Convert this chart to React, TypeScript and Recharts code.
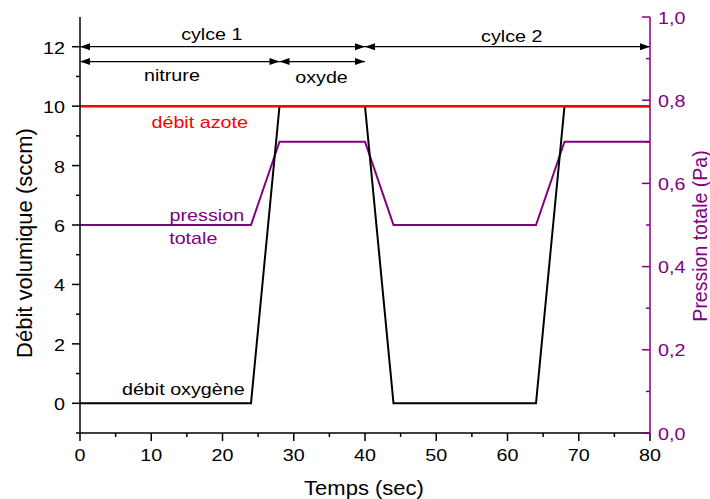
import React from "react";
import {
  ComposedChart,
  Line,
  XAxis,
  YAxis,
  ReferenceLine,
  ReferenceDot,
} from "recharts";

const times = [0, 24, 28, 40, 44, 64, 68, 80];
const oxygene = [0, 0, 10, 10, 0, 0, 10, 10];
const azote = [10, 10, 10, 10, 10, 10, 10, 10];
const pression = [0.5, 0.5, 0.7, 0.7, 0.5, 0.5, 0.7, 0.7];

const xTicks = [0, 5, 10, 15, 20, 25, 30, 35, 40, 45, 50, 55, 60, 65, 70, 75, 80];
const leftTicks = [-1, 0, 1, 2, 3, 4, 5, 6, 7, 8, 9, 10, 11, 12];
const rightTicks = [0, 0.1, 0.2, 0.3, 0.4, 0.5, 0.6, 0.7, 0.8, 0.9, 1.0];

// periods drawn as double arrows
const spans = [
  { from: 0, to: 40, y: 12 },
  { from: 40, to: 80, y: 12 },
  { from: 0, to: 28, y: 11.5 },
  { from: 28, to: 40, y: 11.5 },
];

const notes = [
  { text: "cylce 1", x: 18.5, y: 12.42, color: "#000" },
  { text: "cylce 2", x: 60.6, y: 12.38, color: "#000" },
  { text: "nitrure", x: 12.9, y: 11.06, color: "#000" },
  { text: "oxyde", x: 33.9, y: 11.0, color: "#000" },
  { text: "débit azote", x: 16.8, y: 9.48, color: "#ff0000" },
  { text: "pression", x: 17.8, y: 6.35, color: "#800080" },
  { text: "totale", x: 15.9, y: 5.58, color: "#800080" },
  { text: "débit oxygène", x: 14.5, y: 0.47, color: "#000" },
];

const data = times.map((t, i) => ({
  t,
  oxygene: oxygene[i],
  azote: azote[i],
  pression: pression[i],
}));

const FONT = "'Liberation Sans', Arial, sans-serif";
const PURPLE = "#800080";
const SX = 1.16; // the original text is a bit wider than tall

// text slightly stretched horizontally
const T = ({ x, y, size = 17, sx = SX, anchor = "middle", fill = "#000", dy, children }: any) => (
  <text
    transform={`translate(${x} ${y}) scale(${sx} 1)`}
    textAnchor={anchor}
    dy={dy}
    fontSize={size}
    fontFamily={FONT}
    fill={fill}
  >
    {children}
  </text>
);

const BottomTick = ({ x, y, payload }: any) => {
  const major = payload.value % 10 === 0;
  return (
    <g>
      <line x1={x} y1={y} x2={x} y2={y + (major ? 8 : 4)} stroke="#000" strokeWidth={1.5} />
      {major && <T x={x} y={y + 28}>{payload.value}</T>}
    </g>
  );
};

const TopTick = ({ x, y, payload }: any) => {
  const major = payload.value % 10 === 0;
  return <line x1={x} y1={y} x2={x} y2={y + (major ? 8 : 4)} stroke="#000" strokeWidth={1.5} />;
};

const LeftTick = ({ x, y, payload }: any) => {
  const major = payload.value % 2 === 0;
  return (
    <g>
      <line x1={x - (major ? 8 : 4)} y1={y} x2={x} y2={y} stroke="#000" strokeWidth={1.5} />
      {major && (
        <T x={x - 15} y={y + 7} anchor="end">
          {payload.value}
        </T>
      )}
    </g>
  );
};

const RightTick = ({ x, y, payload }: any) => {
  const major = Math.round(payload.value * 10) % 2 === 0;
  return (
    <g>
      <line x1={x - (major ? 8 : 4)} y1={y} x2={x} y2={y} stroke={PURPLE} strokeWidth={1.5} />
      {major && (
        <T x={x + 8} y={y + 6.5} anchor="start" fill={PURPLE}>
          {payload.value.toFixed(1).replace(".", ",")}
        </T>
      )}
    </g>
  );
};

const Arrow = (p: any) => {
  const { x1, y1, x2, y2 } = p;
  const h = 10;
  const w = 3.5;
  return (
    <g>
      <line x1={x1} y1={y1} x2={x2} y2={y2} stroke="#000" strokeWidth={1.2} />
      <polygon points={`${x1},${y1} ${x1 + h},${y1 - w} ${x1 + h},${y1 + w}`} fill="#000" />
      <polygon points={`${x2},${y2} ${x2 - h},${y2 - w} ${x2 - h},${y2 + w}`} fill="#000" />
    </g>
  );
};

export default function App() {
  return (
    <div style={{ position: "absolute", left: 0, top: 0, background: "#fff" }}>
      <ComposedChart
        width={710}
        height={499}
        data={data}
        margin={{ top: 17, right: 0, bottom: 0, left: 0 }}
      >
        <XAxis
          dataKey="t"
          type="number"
          domain={[0, 80]}
          ticks={xTicks}
          interval={0}
          height={66}
          tickSize={0}
          tickMargin={0}
          tick={<BottomTick />}
          axisLine={{ stroke: "#000", strokeWidth: 1.5 }}
          tickLine={false}
          label={(props: any) => {
            const vb = props.viewBox;
            return (
              <T x={vb.x + vb.width / 2 - 1} y={vb.y + 62} size={20} sx={1.1}>
                Temps (sec)
              </T>
            );
          }}
        />
        <XAxis
          xAxisId="top"
          orientation="top"
          dataKey="t"
          type="number"
          domain={[0, 80]}
          ticks={xTicks}
          interval={0}
          height={0}
          tickSize={0}
          tickMargin={0}
          tick={<TopTick />}
          axisLine={{ stroke: "#000", strokeWidth: 1.5 }}
          tickLine={false}
        />
        <YAxis
          yAxisId="left"
          type="number"
          domain={[-1, 13]}
          ticks={leftTicks}
          interval={0}
          width={80}
          tickSize={0}
          tickMargin={0}
          tick={<LeftTick />}
          axisLine={{ stroke: "#000", strokeWidth: 1.5 }}
          tickLine={false}
          label={(props: any) => {
            const vb = props.viewBox;
            const cy = vb.y + 226;
            return (
              <text x={24} y={cy} transform={`rotate(-90 24 ${cy})`} dy="0.36em" textAnchor="middle" fontSize={22} fontFamily={FONT} fill="#000">
                Débit volumique (sccm)
              </text>
            );
          }}
        />
        <YAxis
          yAxisId="right"
          orientation="right"
          type="number"
          domain={[0, 1]}
          ticks={rightTicks}
          interval={0}
          width={60}
          tickSize={0}
          tickMargin={0}
          tick={<RightTick />}
          axisLine={{ stroke: PURPLE, strokeWidth: 1.5 }}
          tickLine={false}
          label={(props: any) => {
            const vb = props.viewBox;
            const cy = vb.y + 219;
            const cx = vb.x + 50;
            return (
              <text x={cx} y={cy} transform={`rotate(-90 ${cx} ${cy})`} dy="0.36em" textAnchor="middle" fontSize={19.5} fontFamily={FONT} fill={PURPLE}>
                Pression totale (Pa)
              </text>
            );
          }}
        />

        <Line yAxisId="right" type="linear" dataKey="pression" stroke={PURPLE} strokeWidth={2} dot={false} isAnimationActive={false} />
        <Line yAxisId="left" type="linear" dataKey="oxygene" stroke="#000" strokeWidth={2} dot={false} isAnimationActive={false} />
        <Line yAxisId="left" type="linear" dataKey="azote" stroke="#ff0000" strokeWidth={2.5} dot={false} isAnimationActive={false} />

        {spans.map((s, i) => (
          <ReferenceLine
            key={`span-${i}`}
            yAxisId="left"
            segment={[
              { x: s.from, y: s.y },
              { x: s.to, y: s.y },
            ]}
            shape={<Arrow />}
          />
        ))}

        {notes.map((n) => (
          <ReferenceDot
            key={n.text}
            yAxisId="left"
            x={n.x}
            y={n.y}
            r={0}
            shape={(p: any) => (
              <T x={p.cx} y={p.cy} dy="0.36em" fill={n.color}>
                {n.text}
              </T>
            )}
          />
        ))}
      </ComposedChart>
    </div>
  );
}
